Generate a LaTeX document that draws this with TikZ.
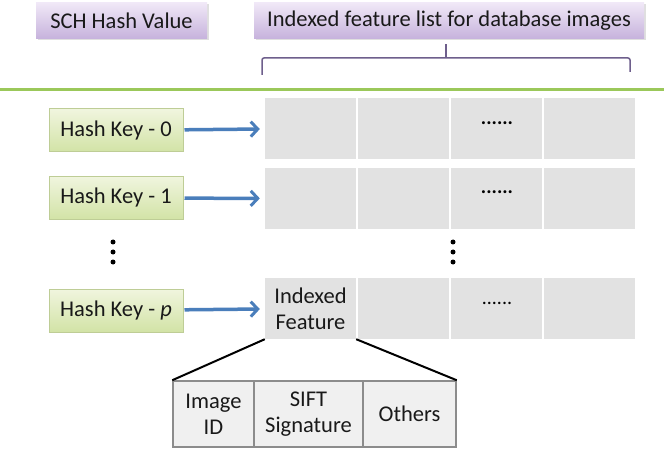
\documentclass[tikz,border=0pt]{standalone}
\usepackage{fontspec}
\setmainfont{Carlito}
\usepackage{tikz}
\usetikzlibrary{calc,arrows.meta,shadows}

\definecolor{textgray}{RGB}{25,25,25}
\definecolor{keyblue}{RGB}{74,126,187}
\definecolor{cellgray}{RGB}{226,226,226}
\definecolor{sepgreen}{RGB}{155,200,90}
\definecolor{bracepurple}{RGB}{110,95,140}

\begin{document}
\begin{tikzpicture}[x=1pt, y=-1pt, font=\fontsize{22.5}{26}\selectfont, text=textgray,
  titlebox/.style={top color={rgb,255:red,240;green,232;blue,247}, bottom color={rgb,255:red,198;green,178;blue,220}, minimum height=36pt, inner sep=0pt, drop shadow={shadow xshift=1.5pt, shadow yshift=-1.5pt, opacity=0.25}},
  keybox/.style={draw={rgb,255:red,190;green,205;blue,150}, line width=1pt, top color={rgb,255:red,240;green,245;blue,222}, bottom color={rgb,255:red,210;green,227;blue,166}, minimum width=134pt, minimum height=43pt, inner sep=0pt},
  cell/.style={fill=cellgray, minimum width=91pt, minimum height=61pt, inner sep=0pt, align=center},
  part/.style={draw={rgb,255:red,140;green,140;blue,140}, line width=1.5pt, fill={rgb,255:red,240;green,240;blue,240}, minimum height=66pt, inner sep=0pt, align=center},
  keyarrow/.style={-{Straight Barb[length=7pt, width=15pt, line width=3pt]}, line width=3.5pt, keyblue, shorten <=1pt, shorten >=5pt},
  dotsv/.style={fill=black}]
\useasboundingbox (0, 0) rectangle (664, 449);
\fill [white] (0, 0) rectangle (664, 449);

\node [titlebox, minimum width=171pt] (hashval) at (121.5, 21) {SCH Hash Value};
\node [titlebox, minimum width=390pt] (featlist) at (449, 21) {Indexed feature list for database images};

\draw [bracepurple, line width=1.5pt, rounded corners=2pt] (262, 75) -- (262, 58) -- (630, 58) -- (630, 72);
\draw [bracepurple, line width=1.5pt] (446, 58) -- (446, 44);

\draw [sepgreen, line width=3pt] (0, 90) -- (664, 90);

\node [keybox] (k0) at (116, 130.5) {Hash Key - 0};
\node [keybox] (k1) at (116, 198) {Hash Key - 1};
\node [keybox] (kp) at (116, 310.5) {Hash Key - \textit{p}};

\node [cell] (c01) at (310.5, 128.5) {};
\node [cell] (c02) at (403.5, 128.5) {};
\node [cell] (c03) at (496.5, 128.5) {};
\node [cell] (c04) at (589.5, 128.5) {};
\node [cell] (c11) at (310.5, 198.5) {};
\node [cell] (c12) at (403.5, 198.5) {};
\node [cell] (c13) at (496.5, 198.5) {};
\node [cell] (c14) at (589.5, 198.5) {};
\node [cell] (cp1) at (310.5, 308.5) {Indexed\\Feature};
\node [cell] (cp2) at (403.5, 308.5) {};
\node [cell] (cp3) at (496.5, 308.5) {};
\node [cell] (cp4) at (589.5, 308.5) {};

\node [anchor=base, text=black, font=\fontsize{20}{24}\bfseries] (d0) at (497, 124.5) {......};
\node [anchor=base, text=black, font=\fontsize{20}{24}\bfseries] (d1) at (497, 193.5) {......};
\node [anchor=base, text=black, font=\fontsize{20}{24}\selectfont] (dp) at (497, 304.5) {......};

\draw [keyarrow] (k0) -- (c01);
\draw [keyarrow] (k1) -- (c11);
\draw [keyarrow] (kp) -- (cp1);

\fill [dotsv] (113, 242) circle (2.5) (113, 252) circle (2.5) (113, 262) circle (2.5);
\fill [dotsv] (453, 242) circle (2.5) (453, 252) circle (2.5) (453, 262) circle (2.5);

\node [part, minimum width=81pt] (imgid) at (213.5, 414) {Image\\ID};
\node [part, minimum width=109pt] (sift) at (308.5, 414) {SIFT\\Signature};
\node [part, minimum width=93pt] (others) at (409.5, 414) {Others};

\draw [line width=2pt, black] (cp1.south west) -- (imgid.north west);
\draw [line width=2pt, black] (cp1.south east) -- (others.north east);
\end{tikzpicture}
\end{document}
